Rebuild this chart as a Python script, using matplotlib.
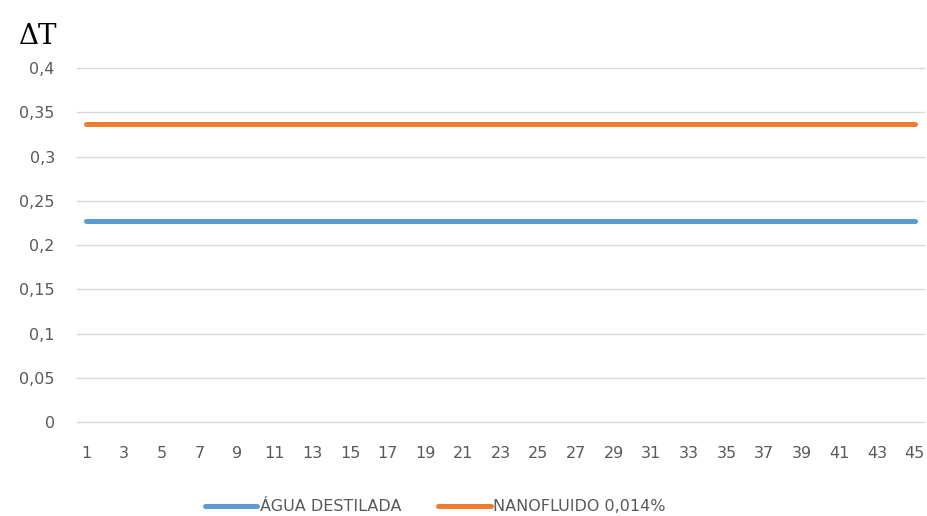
import numpy as np
import matplotlib.pyplot as plt

# data
x_vals = list(range(1, 46))
agua_destilada = [0.227] * 45
nanofluido = [0.337] * 45
y_ticks = [0, 0.05, 0.1, 0.15, 0.2, 0.25, 0.3, 0.35, 0.4]
y_labels = ["0", "0,05", "0,1", "0,15", "0,2", "0,25", "0,3", "0,35", "0,4"]
x_ticks = list(range(1, 46, 2))

plt.rcParams['font.family'] = ['DejaVu Sans']

fig = plt.figure(figsize=(9.28, 5.16), dpi=100)
ax = fig.add_axes([0.083, 0.182, 0.913, 0.686])

ax.plot(x_vals, agua_destilada, color="#5B9BD5", lw=3.6, solid_capstyle="round",
        label="ÁGUA DESTILADA")
ax.plot(x_vals, nanofluido, color="#ED7D31", lw=3.6, solid_capstyle="round",
        label="NANOFLUIDO 0,014%")

ax.set_xlim(0.5, 45.5)
ax.set_ylim(0, 0.4)
ax.set_yticks(y_ticks)
ax.set_yticklabels(y_labels)
ax.set_xticks(x_ticks)
ax.set_xticklabels([str(v) for v in x_ticks])
ax.tick_params(length=0, colors="#595959", labelsize=11.5)
ax.tick_params(axis="y", pad=16)
ax.tick_params(axis="x", pad=17)
ax.grid(axis="y", color="#D9D9D9", lw=1)
for gl in ax.get_ygridlines():
    gl.set_clip_on(False)
ax.set_axisbelow(True)
for s in ax.spines.values():
    s.set_visible(False)

fig.text(0.02, 0.915, "ΔT", family="DejaVu Serif", fontsize=20, color="#000000")

fig.legend(loc="center", bbox_to_anchor=(0.469, 0.018), bbox_transform=fig.transFigure,
           ncol=2, frameon=False, fontsize=11.5, labelcolor="#595959",
           handlelength=3.3, handletextpad=0.15, columnspacing=2.3)

fig.savefig("out.png", dpi=100)
